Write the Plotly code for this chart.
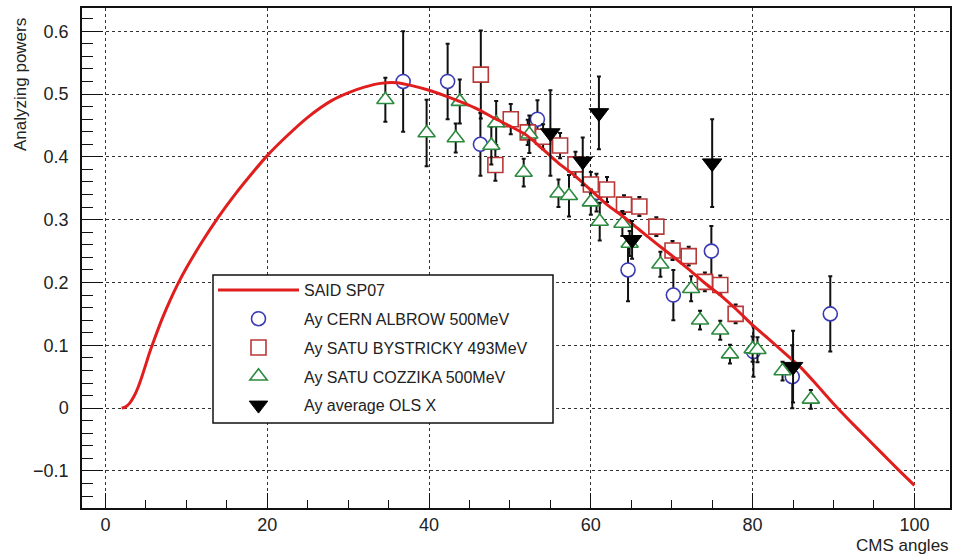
import plotly.graph_objects as go

# SAID SP07 curve
said_x = [2.0, 2.5, 3.0, 3.5, 4.0, 4.5, 5.0, 5.5, 6.0, 7.0, 8.0, 9.0, 10.0, 12.0, 14.0, 16.0,
          18.0, 20.0, 22.0, 25.0, 28.0, 30.0, 32.0, 34.0, 36.0, 38.0, 40.0, 42.0, 44.0, 46.0,
          48.0, 50.0, 52.0, 54.0, 56.0, 58.0, 60.0, 62.0, 64.0, 66.0, 68.0, 70.0, 72.0, 74.0,
          76.0, 78.0, 80.0, 82.0, 84.0, 86.0, 88.0, 90.0, 92.0, 94.0, 96.0, 98.0, 100.0]
said_y = [0.0, 0.002, 0.008, 0.018, 0.032, 0.05, 0.07, 0.09, 0.108, 0.142, 0.172, 0.199, 0.223,
          0.266, 0.305, 0.34, 0.372, 0.402, 0.428, 0.463, 0.49, 0.502, 0.511, 0.517, 0.518,
          0.513, 0.506, 0.497, 0.487, 0.476, 0.462, 0.449, 0.435, 0.413, 0.39, 0.37, 0.347,
          0.324, 0.305, 0.284, 0.263, 0.243, 0.222, 0.2, 0.18, 0.157, 0.132, 0.11, 0.087, 0.064,
          0.036, 0.007, -0.02, -0.046, -0.072, -0.098, -0.123]

# CERN ALBROW 500 MeV
albrow_x = [36.8, 42.3, 46.35, 53.4, 60.7, 64.6, 70.2, 74.9, 80.1, 84.9, 89.6]
albrow_y = [0.52, 0.52, 0.42, 0.46, 0.343, 0.22, 0.18, 0.25, 0.09, 0.05, 0.15]
albrow_e = [0.08, 0.06, 0.05, 0.03, 0.03, 0.05, 0.04, 0.04, 0.04, 0.05, 0.06]

# SATU BYSTRICKY 493 MeV
byst_x = [46.4, 48.2, 50.1, 52.2, 54.1, 56.2, 58.1, 60.0, 62.0, 64.1, 66.0, 68.1, 70.1, 72.1,
          74.1, 76.0, 77.9]
byst_y = [0.531, 0.387, 0.46, 0.439, 0.432, 0.418, 0.388, 0.356, 0.348, 0.324, 0.321, 0.289,
          0.251, 0.242, 0.201, 0.196, 0.15]
byst_e = [0.07, 0.025, 0.024, 0.02, 0.02, 0.02, 0.02, 0.02, 0.02, 0.015, 0.015, 0.015, 0.015,
          0.015, 0.015, 0.015, 0.015]

# SATU COZZIKA 500 MeV
cozz_x = [34.6, 39.7, 43.3, 43.8, 47.7, 48.3, 51.7, 52.4, 56.0, 57.3, 60.0, 61.1, 63.9, 64.8,
          68.6, 72.4, 73.5, 76.0, 77.2, 80.0, 80.6, 83.7, 87.2]
cozz_y = [0.491, 0.438, 0.43, 0.488, 0.418, 0.454, 0.375, 0.436, 0.342, 0.338, 0.328, 0.297,
          0.294, 0.262, 0.229, 0.19, 0.14, 0.124, 0.086, 0.094, 0.093, 0.059, 0.014]
cozz_e = [0.035, 0.053, 0.023, 0.035, 0.03, 0.035, 0.022, 0.03, 0.022, 0.033, 0.02, 0.03, 0.02,
          0.02, 0.02, 0.02, 0.015, 0.015, 0.015, 0.02, 0.02, 0.015, 0.015]

# average OLS X
ols_x = [55.0, 59.0, 61.0, 65.1, 75.0, 85.0]
ols_y = [0.438, 0.393, 0.47, 0.268, 0.39, 0.066]
ols_e = [0.068, 0.038, 0.058, 0.03, 0.07, 0.057]

x_ticks = [0, 20, 40, 60, 80, 100]
x_tick_labels = ["0", "20", "40", "60", "80", "100"]
y_ticks = [-0.1, 0, 0.1, 0.2, 0.3, 0.4, 0.5, 0.6]
y_tick_labels = ["\u22120.1", "0", "0.1", "0.2", "0.3", "0.4", "0.5", "0.6"]

FONT = "Liberation Sans, Arial, sans-serif"

# figure geometry (pixels)
W, H = 958, 556
ML, MR, MT, MB = 82, 8, 8, 48
PW, PH = W - ML - MR, H - MT - MB

def px2paper_x(px):
    return (px - ML) / PW

def px2paper_y(py):
    return 1 - (py - MT) / PH

def err(arr):
    return dict(type="data", array=arr, visible=True, color="#111111", thickness=2, width=2)

fig = go.Figure()

fig.add_trace(go.Scatter(
    x=albrow_x, y=albrow_y, mode="markers", name="Ay CERN ALBROW 500MeV",
    error_y=err(albrow_e), legendgroup="a", showlegend=False,
    marker=dict(symbol="circle", size=14, color="white",
                line=dict(color="#3a3ab4", width=1.6))))
fig.add_trace(go.Scatter(
    x=byst_x, y=byst_y, mode="markers", name="Ay SATU BYSTRICKY 493MeV",
    error_y=err(byst_e), legendgroup="b", showlegend=False,
    marker=dict(symbol="square", size=15, color="white",
                line=dict(color="#b83838", width=1.6))))
fig.add_trace(go.Scatter(
    x=cozz_x, y=cozz_y, mode="markers", name="Ay SATU COZZIKA 500MeV",
    error_y=err(cozz_e), legendgroup="c", showlegend=False,
    marker=dict(symbol="triangle-up", size=15, color="white",
                line=dict(color="#2b8a3e", width=1.6))))
# curve drawn over the open markers, as in the reference
fig.add_trace(go.Scatter(
    x=said_x, y=said_y, mode="lines", name="SAID SP07", legendgroup="s",
    line=dict(color="#e01e1e", width=3, shape="spline", smoothing=0.6), showlegend=True))
fig.add_trace(go.Scatter(
    x=ols_x, y=ols_y, mode="markers", name="Ay average OLS X",
    error_y=err(ols_e), legendgroup="o",
    marker=dict(symbol="triangle-down", size=17, color="black",
                line=dict(color="black", width=1))))

# legend-only entries to keep the legend order like the reference
for nm, grp, mk in [
    ("Ay CERN ALBROW 500MeV", "a", dict(symbol="circle", size=14, color="white",
                                        line=dict(color="#3a3ab4", width=1.6))),
    ("Ay SATU BYSTRICKY 493MeV", "b", dict(symbol="square", size=15, color="white",
                                           line=dict(color="#b83838", width=1.6))),
    ("Ay SATU COZZIKA 500MeV", "c", dict(symbol="triangle-up", size=15, color="white",
                                         line=dict(color="#2b8a3e", width=1.6))),
]:
    fig.add_trace(go.Scatter(x=[None], y=[None], mode="markers", name=nm, legendgroup=grp,
                             marker=mk, showlegend=True))

rank = {"s": 1, "a": 2, "b": 3, "c": 4, "o": 5}
for tr in fig.data:
    tr.legendrank = rank[tr.legendgroup]

axis_common = dict(
    showline=True, linecolor="#111111", linewidth=1.5, mirror=True,
    ticks="inside", tickcolor="#111111", tickwidth=1.3,
    showgrid=True, gridcolor="#333333", gridwidth=1, griddash="dot",
    zeroline=False, automargin=False,
    tickfont=dict(family=FONT, size=18, color="#222222"),
)

fig.update_xaxes(range=[-2.9, 104.4], tickvals=x_ticks, ticktext=x_tick_labels, ticklen=15,
                 minor=dict(dtick=5, ticks="inside", ticklen=8, tickcolor="#111111",
                            showgrid=False),
                 **axis_common)
fig.update_yaxes(range=[-0.159, 0.637], tickvals=y_ticks, ticktext=y_tick_labels, ticklen=21,
                 ticklabelstandoff=8,
                 minor=dict(dtick=0.02, tick0=0, ticks="inside", ticklen=11,
                            tickcolor="#111111", showgrid=False),
                 **axis_common)

# legend frame box
box_l, box_r, box_t, box_b = 213, 553, 275, 423

fig.update_layout(
    width=W, height=H,
    margin=dict(l=ML, r=MR, t=MT, b=MB),
    paper_bgcolor="white", plot_bgcolor="white",
    font=dict(family=FONT, color="#222222"),
    showlegend=True,
    legend=dict(x=px2paper_x(box_l), y=px2paper_y(273), xanchor="left", yanchor="top",
                bgcolor="rgba(0,0,0,0)", borderwidth=0,
                font=dict(family=FONT, size=16, color="#222222"),
                itemwidth=81, tracegroupgap=5, traceorder="grouped"),
    shapes=[
        dict(type="rect", xref="paper", yref="paper",
             x0=px2paper_x(box_l), x1=px2paper_x(box_r),
             y0=px2paper_y(box_b), y1=px2paper_y(box_t),
             fillcolor="white", line=dict(color="#111111", width=1.5), layer="above"),
    ],
    annotations=[
        dict(text="Analyzing powers", xref="paper", yref="paper",
             x=px2paper_x(20), y=px2paper_y(85), textangle=-90, showarrow=False,
             xanchor="center", yanchor="middle",
             font=dict(family=FONT, size=17, color="#222222")),
        dict(text="CMS angles", xref="paper", yref="paper",
             x=px2paper_x(951), y=px2paper_y(545), showarrow=False,
             xanchor="right", yanchor="middle",
             font=dict(family=FONT, size=17, color="#222222")),
    ],
)

fig.write_html("out.html")
